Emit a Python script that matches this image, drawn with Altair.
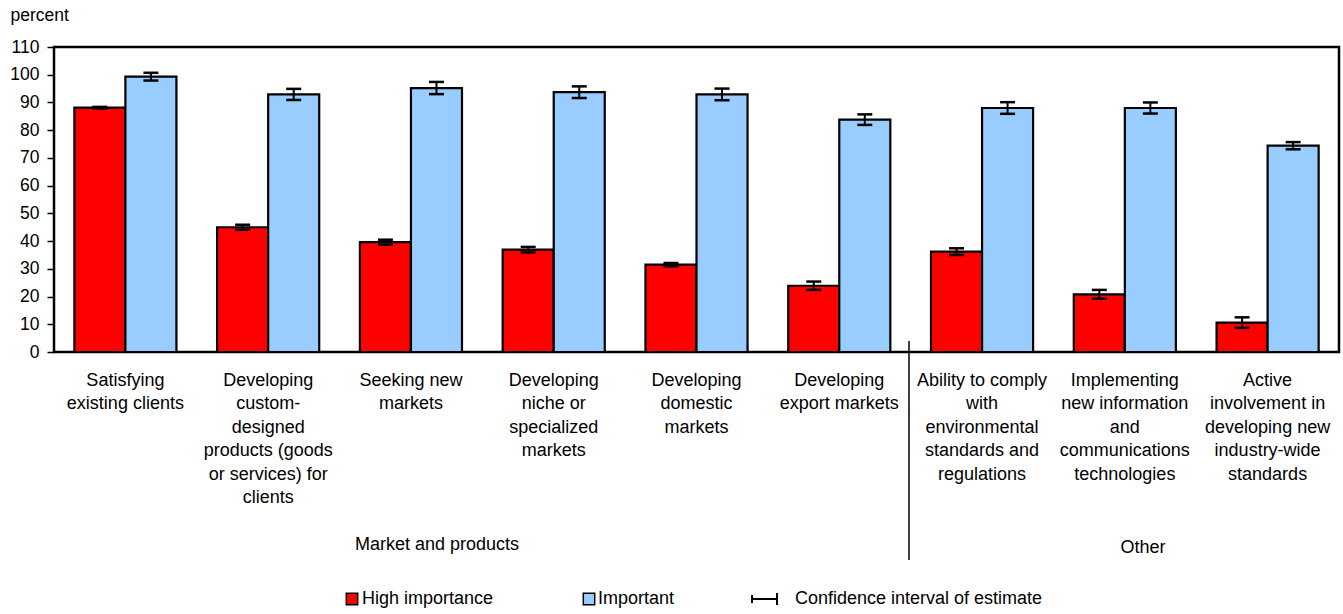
import altair as alt
import pandas as pd

FONT = "Liberation Sans"

categories = [
    "Satisfying existing clients",
    "Developing custom-designed products (goods or services) for clients",
    "Seeking new markets",
    "Developing niche or specialized markets",
    "Developing domestic markets",
    "Developing export markets",
    "Ability to comply with environmental standards and regulations",
    "Implementing new information and communications technologies",
    "Active involvement in developing new industry-wide standards",
]
cat_labels = [
    "Satisfying\nexisting clients",
    "Developing\ncustom-\ndesigned\nproducts (goods\nor services) for\nclients",
    "Seeking new\nmarkets",
    "Developing\nniche or\nspecialized\nmarkets",
    "Developing\ndomestic\nmarkets",
    "Developing\nexport markets",
    "Ability to comply\nwith\nenvironmental\nstandards and\nregulations",
    "Implementing\nnew information\nand\ncommunications\ntechnologies",
    "Active\ninvolvement in\ndeveloping new\nindustry-wide\nstandards",
]
series = ["High importance", "Important"]
high = [88.1, 45.0, 39.6, 36.9, 31.5, 23.9, 36.2, 20.8, 10.6]
high_err = [0.3, 0.9, 0.9, 1.0, 0.6, 1.5, 1.2, 1.6, 1.9]
imp = [99.3, 92.9, 95.2, 93.7, 92.9, 83.8, 88.0, 88.0, 74.4]
imp_err = [1.4, 2.0, 2.2, 2.1, 2.1, 1.9, 2.1, 2.0, 1.3]
colors = ["#FF0000", "#99CCFF"]
group_labels = ["Market and products", "Other"]
ci_label = "Confidence interval of estimate"
y_ticks = list(range(0, 111, 10))

rows = []
for i, c in enumerate(categories):
    for s, v, e in ((series[0], high[i], high_err[i]), (series[1], imp[i], imp_err[i])):
        rows.append({"category": c, "series": s, "value": v, "lo": v - e, "hi": v + e})
df = pd.DataFrame(rows)
lab_df = pd.DataFrame({"category": categories, "label": cat_labels})

W, H = 1285, 305

xscale = alt.Scale(domain=categories, paddingInner=0.285, paddingOuter=0.1425)
xoff = alt.Scale(domain=series, paddingInner=0, paddingOuter=0)
yscale = alt.Scale(domain=[0, 110], nice=False)

y_axis = alt.Axis(
    values=y_ticks,
    tickCount=12,
    grid=False,
    domain=False,
    ticks=True,
    tickSize=7,
    tickWidth=1.5,
    tickColor="black",
    labelFont=FONT,
    labelFontSize=17.5,
    labelColor="black",
    labelPadding=8,
    labelOverlap=False,
    labelFlush=False,
    title="percent",
    titleFont=FONT,
    titleFontSize=17.5,
    titleFontWeight="normal",
    titleColor="black",
    titleAngle=0,
    titleAlign="left",
    titleBaseline="alphabetic",
    titleX=-44,
    titleY=-27,
)

x_enc = alt.X("category:N", scale=xscale, axis=None)
xo_enc = alt.XOffset("series:N", scale=xoff)

bars = alt.Chart(df).mark_bar(stroke="black", strokeWidth=2.2).encode(
    x=x_enc,
    xOffset=xo_enc,
    y=alt.Y("value:Q", scale=yscale, axis=y_axis),
    color=alt.Color("series:N", scale=alt.Scale(domain=series, range=colors), legend=None),
)

err = alt.Chart(df).mark_rule(color="black", strokeWidth=2).encode(
    x=x_enc, xOffset=xo_enc, y=alt.Y("lo:Q", scale=yscale, axis=y_axis), y2="hi:Q"
)
cap_lo = alt.Chart(df).mark_tick(color="black", thickness=2.5, size=15, opacity=1).encode(
    x=x_enc, xOffset=xo_enc, y=alt.Y("lo:Q", scale=yscale, axis=y_axis)
)
cap_hi = alt.Chart(df).mark_tick(color="black", thickness=2.5, size=15, opacity=1).encode(
    x=x_enc, xOffset=xo_enc, y=alt.Y("hi:Q", scale=yscale, axis=y_axis)
)

labels = alt.Chart(lab_df).mark_text(
    font=FONT, fontSize=18, lineBreak="\n", lineHeight=23.5, align="center",
    baseline="alphabetic", color="black"
).encode(x=x_enc, y=alt.value(338.5), text="label:N")

one = pd.DataFrame({"k": [0]})

grp1 = alt.Chart(one).mark_text(font=FONT, fontSize=18, align="center", baseline="alphabetic", color="black", text=group_labels[0]).encode(
    x=alt.value(437 - 54), y=alt.value(550 - 47))
grp2 = alt.Chart(one).mark_text(font=FONT, fontSize=18, align="center", baseline="alphabetic", color="black", text=group_labels[1]).encode(
    x=alt.value(1143 - 54), y=alt.value(553 - 47))
divider = alt.Chart(one).mark_rule(color="black", strokeWidth=1.5).encode(
    x=alt.value(855), y=alt.value(294), y2=alt.value(513))

# manual legend
LY = 599 - 47
leg_sq1 = alt.Chart(one).mark_square(size=130, fill=colors[0], stroke="black", strokeWidth=1.5, opacity=1).encode(
    x=alt.value(352 - 54), y=alt.value(LY))
leg_t1 = alt.Chart(one).mark_text(font=FONT, fontSize=18, align="left", baseline="middle", color="black", text=series[0]).encode(
    x=alt.value(362 - 54), y=alt.value(LY))
leg_sq2 = alt.Chart(one).mark_square(size=130, fill=colors[1], stroke="black", strokeWidth=1.5, opacity=1).encode(
    x=alt.value(589 - 54), y=alt.value(LY))
leg_t2 = alt.Chart(one).mark_text(font=FONT, fontSize=18, align="left", baseline="middle", color="black", text=series[1]).encode(
    x=alt.value(598 - 54), y=alt.value(LY))
leg_h = alt.Chart(one).mark_rule(color="black", strokeWidth=2).encode(
    x=alt.value(751 - 54), x2=alt.value(777 - 54), y=alt.value(LY))
leg_c1 = alt.Chart(one).mark_rule(color="black", strokeWidth=2).encode(
    x=alt.value(752 - 54), y=alt.value(LY - 4), y2=alt.value(LY + 4))
leg_c2 = alt.Chart(one).mark_rule(color="black", strokeWidth=2).encode(
    x=alt.value(777 - 54), y=alt.value(LY - 6), y2=alt.value(LY + 6))
leg_t3 = alt.Chart(one).mark_text(font=FONT, fontSize=18, align="left", baseline="middle", color="black", text=ci_label).encode(
    x=alt.value(795 - 54), y=alt.value(LY))

chart = alt.layer(
    bars, err, cap_lo, cap_hi, labels, grp1, grp2, divider,
    leg_sq1, leg_t1, leg_sq2, leg_t2, leg_h, leg_c1, leg_c2, leg_t3,
).properties(
    width=W,
    height=H,
    autosize=alt.AutoSizeParams(type="none"),
    padding={"left": 54, "top": 47, "right": 4, "bottom": 262},
    background="white",
).configure(
    font=FONT
).configure_view(
    stroke="black", strokeWidth=2.5
)

chart.save("out.html", embed_options={"renderer": "svg", "actions": False})
